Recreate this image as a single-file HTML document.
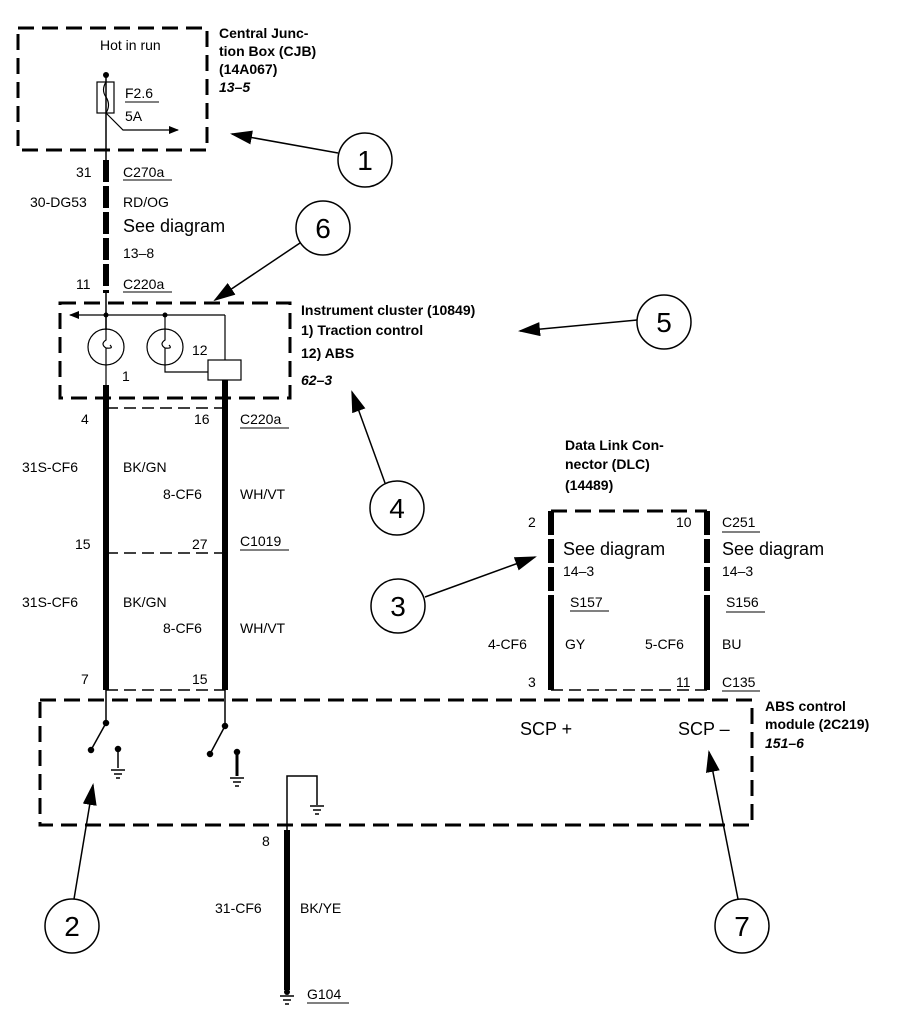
<!DOCTYPE html>
<html><head><style>
html,body{margin:0;padding:0;background:#fff}
svg{display:block}
text{font-family:"Liberation Sans",Arial,sans-serif;fill:#000}
.s{font-size:14px}
.b{font-size:14px;font-weight:bold}
.bi{font-size:14px;font-weight:bold;font-style:italic}
.l{font-size:18px}
.c{font-size:28px}
</style></head><body>
<svg width="904" height="1024" viewBox="0 0 904 1024" xmlns="http://www.w3.org/2000/svg">
<defs><marker id="ah" markerWidth="10" markerHeight="8" refX="9" refY="4" orient="auto" markerUnits="userSpaceOnUse"><path d="M0,0 L10,4 L0,8 z" fill="#000"/></marker>
<marker id="ab" markerWidth="22" markerHeight="14" refX="20" refY="7" orient="auto" markerUnits="userSpaceOnUse"><path d="M0,0 L22,7 L0,14 z" fill="#000"/></marker></defs>
<g fill="none" stroke="#000" stroke-width="3" stroke-dasharray="16,8">
<rect x="18" y="28" width="189" height="122"/>
<rect x="60" y="303" width="230" height="95"/>
<rect x="40" y="700" width="712" height="125"/>
<path d="M551,511 H707"/>
</g>
<g stroke="#000" stroke-width="1.5" stroke-dasharray="12,6" fill="none">
<path d="M106,408 H225"/><path d="M106,553 H225"/><path d="M106,690 H225"/><path d="M551,690 H707"/>
</g>
<!-- CJB -->
<text x="100" y="50" class="s">Hot in run</text>
<circle cx="106" cy="75" r="3"/>
<line x1="106" y1="75" x2="106" y2="160" stroke="#000" stroke-width="1.5"/>
<rect x="97" y="82" width="17" height="31" fill="none" stroke="#000" stroke-width="1.2"/>
<path d="M106,82 q-5,8 0,15 q5,8 0,16" fill="none" stroke="#000" stroke-width="1.2"/>
<path d="M106,113 L123,130 H178" fill="none" stroke="#000" stroke-width="1.2" marker-end="url(#ah)"/>
<text x="125" y="98" class="s">F2.6</text><line x1="125" y1="102" x2="159" y2="102" stroke="#000"/>
<text x="125" y="121" class="s">5A</text>
<text x="219" y="38" class="b">Central Junc-</text>
<text x="219" y="56" class="b">tion Box (CJB)</text>
<text x="219" y="74" class="b">(14A067)</text>
<text x="219" y="92" class="bi">13–5</text>
<!-- wire to cluster -->
<line x1="106" y1="160" x2="106" y2="293" stroke="#000" stroke-width="6" stroke-dasharray="22,4"/>
<line x1="106" y1="293" x2="106" y2="330" stroke="#000" stroke-width="1.5"/>
<text x="76" y="177" class="s">31</text><text x="123" y="177" class="s">C270a</text><line x1="123" y1="180" x2="172" y2="180" stroke="#000"/>
<text x="30" y="207" class="s">30-DG53</text><text x="123" y="207" class="s">RD/OG</text>
<text x="123" y="232" class="l">See diagram</text>
<text x="123" y="258" class="s">13–8</text>
<text x="76" y="289" class="s">11</text><text x="123" y="289" class="s">C220a</text><line x1="123" y1="292" x2="172" y2="292" stroke="#000"/>
<!-- cluster -->
<path d="M225,315 H70" fill="none" stroke="#000" stroke-width="1.2" marker-end="url(#ah)"/>
<path d="M225,315 V360" stroke="#000" stroke-width="1.2"/>
<circle cx="106" cy="315" r="2.5"/><circle cx="165" cy="315" r="2.5"/>
<circle cx="106" cy="347" r="18" fill="none" stroke="#000" stroke-width="1.2"/>
<circle cx="165" cy="347" r="18" fill="none" stroke="#000" stroke-width="1.2"/>
<path d="M106,315 V340 q-6,4 0,8 q8,1 4,-3 M106,348 V398" fill="none" stroke="#000" stroke-width="1.2"/>
<path d="M165,315 V340 q-6,4 0,8 q8,1 4,-3 M165,348 V372 H208" fill="none" stroke="#000" stroke-width="1.2"/>
<rect x="208" y="360" width="33" height="20" fill="#fff" stroke="#000" stroke-width="1.2"/>
<text x="192" y="355" class="s">12</text><text x="122" y="381" class="s">1</text>
<text x="301" y="315" class="b">Instrument cluster (10849)</text>
<text x="301" y="335" class="b">1)    Traction control</text>
<text x="301" y="358" class="b">12)  ABS</text>
<text x="301" y="385" class="bi">62–3</text>
<!-- lower wires -->
<line x1="106" y1="385" x2="106" y2="690" stroke="#000" stroke-width="6"/>
<line x1="225" y1="380" x2="225" y2="690" stroke="#000" stroke-width="6"/>
<text x="81" y="424" class="s">4</text><text x="194" y="424" class="s">16</text>
<text x="240" y="424" class="s">C220a</text><line x1="240" y1="428" x2="289" y2="428" stroke="#000"/>
<text x="22" y="472" class="s">31S-CF6</text><text x="123" y="472" class="s">BK/GN</text>
<text x="163" y="499" class="s">8-CF6</text><text x="240" y="499" class="s">WH/VT</text>
<text x="75" y="549" class="s">15</text><text x="192" y="549" class="s">27</text>
<text x="240" y="546" class="s">C1019</text><line x1="240" y1="550" x2="289" y2="550" stroke="#000"/>
<text x="22" y="607" class="s">31S-CF6</text><text x="123" y="607" class="s">BK/GN</text>
<text x="163" y="633" class="s">8-CF6</text><text x="240" y="633" class="s">WH/VT</text>
<text x="81" y="684" class="s">7</text><text x="192" y="684" class="s">15</text>
<!-- ABS module -->
<g stroke="#000" stroke-width="1.5" fill="#000">
<line x1="106" y1="690" x2="106" y2="723"/><circle cx="106" cy="723" r="2.5"/><line x1="106" y1="723" x2="91" y2="750"/><circle cx="91" cy="750" r="2.5"/>
<circle cx="118" cy="749" r="2.5"/><line x1="118" y1="749" x2="118" y2="768"/>
<line x1="225" y1="690" x2="225" y2="726"/><circle cx="225" cy="726" r="2.5"/><line x1="225" y1="726" x2="210" y2="754"/><circle cx="210" cy="754" r="2.5"/>
<circle cx="237" cy="752" r="2.5"/><line x1="237" y1="752" x2="237" y2="776" stroke-width="3"/>
<path d="M287,830 V776 H317 V805" fill="none"/>
</g>
<g stroke="#000" stroke-width="1.5">
<line x1="111" y1="770" x2="125" y2="770"/><line x1="114" y1="774" x2="122" y2="774"/><line x1="116" y1="778" x2="120" y2="778"/>
<line x1="230" y1="778" x2="244" y2="778"/><line x1="233" y1="782" x2="241" y2="782"/><line x1="235" y1="786" x2="239" y2="786"/>
<line x1="310" y1="806" x2="324" y2="806"/><line x1="313" y1="810" x2="321" y2="810"/><line x1="315" y1="814" x2="319" y2="814"/>
<line x1="280" y1="996" x2="294" y2="996"/><line x1="283" y1="1000" x2="291" y2="1000"/><line x1="285" y1="1004" x2="289" y2="1004"/>
</g>
<text x="520" y="735" class="l">SCP +</text><text x="678" y="735" class="l">SCP –</text>
<text x="765" y="711" class="b">ABS control</text>
<text x="765" y="729" class="b">module (2C219)</text>
<text x="765" y="748" class="bi">151–6</text>
<line x1="287" y1="830" x2="287" y2="990" stroke="#000" stroke-width="6"/>
<circle cx="287" cy="992" r="3"/>
<text x="262" y="846" class="s">8</text>
<text x="215" y="913" class="s">31-CF6</text><text x="300" y="913" class="s">BK/YE</text>
<text x="307" y="999" class="s">G104</text><line x1="307" y1="1003" x2="349" y2="1003" stroke="#000"/>
<!-- DLC -->
<line x1="551" y1="511" x2="551" y2="690" stroke="#000" stroke-width="6" stroke-dasharray="24,4"/>
<line x1="707" y1="511" x2="707" y2="690" stroke="#000" stroke-width="6" stroke-dasharray="24,4"/>
<line x1="551" y1="600" x2="551" y2="690" stroke="#000" stroke-width="6"/>
<line x1="707" y1="600" x2="707" y2="690" stroke="#000" stroke-width="6"/>
<text x="565" y="450" class="b">Data Link Con-</text>
<text x="565" y="469" class="b">nector (DLC)</text>
<text x="565" y="490" class="b">(14489)</text>
<text x="528" y="527" class="s">2</text><text x="676" y="527" class="s">10</text>
<text x="722" y="527" class="s">C251</text><line x1="722" y1="532" x2="760" y2="532" stroke="#000"/>
<text x="563" y="555" class="l">See diagram</text><text x="722" y="555" class="l">See diagram</text>
<text x="563" y="576" class="s">14–3</text><text x="722" y="576" class="s">14–3</text>
<text x="570" y="607" class="s">S157</text><line x1="570" y1="611" x2="609" y2="611" stroke="#000"/>
<text x="726" y="607" class="s">S156</text><line x1="726" y1="612" x2="765" y2="612" stroke="#000"/>
<text x="488" y="649" class="s">4-CF6</text><text x="565" y="649" class="s">GY</text>
<text x="645" y="649" class="s">5-CF6</text><text x="722" y="649" class="s">BU</text>
<text x="528" y="687" class="s">3</text><text x="676" y="687" class="s">11</text>
<text x="722" y="687" class="s">C135</text><line x1="722" y1="691" x2="760" y2="691" stroke="#000"/>
<!-- callouts -->
<g fill="#fff" stroke="#000" stroke-width="1.5">
<circle cx="365" cy="160" r="27"/><circle cx="323" cy="228" r="27"/><circle cx="664" cy="322" r="27"/>
<circle cx="397" cy="508" r="27"/><circle cx="398" cy="606" r="27"/><circle cx="72" cy="926" r="27"/><circle cx="742" cy="926" r="27"/>
</g>
<g stroke="#000" stroke-width="1.5">
<line x1="338" y1="153" x2="232" y2="134" marker-end="url(#ab)"/>
<line x1="300" y1="243" x2="215" y2="300" marker-end="url(#ab)"/>
<line x1="637" y1="320" x2="520" y2="331" marker-end="url(#ab)"/>
<line x1="385" y1="483" x2="352" y2="392" marker-end="url(#ab)"/>
<line x1="425" y1="597" x2="535" y2="557" marker-end="url(#ab)"/>
<line x1="74" y1="899" x2="93" y2="785" marker-end="url(#ab)"/>
<line x1="738" y1="899" x2="709" y2="752" marker-end="url(#ab)"/>
</g>
<text x="365" y="170" class="c" text-anchor="middle">1</text>
<text x="323" y="238" class="c" text-anchor="middle">6</text>
<text x="664" y="332" class="c" text-anchor="middle">5</text>
<text x="397" y="518" class="c" text-anchor="middle">4</text>
<text x="398" y="616" class="c" text-anchor="middle">3</text>
<text x="72" y="936" class="c" text-anchor="middle">2</text>
<text x="742" y="936" class="c" text-anchor="middle">7</text>
</svg>
</body></html>
